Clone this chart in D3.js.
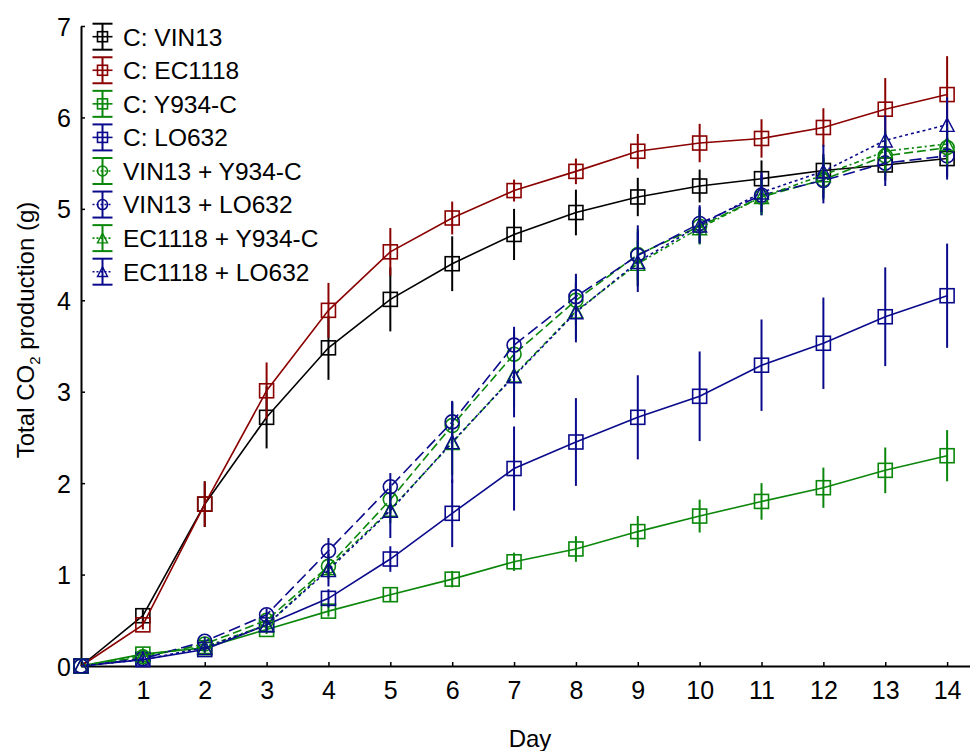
<!DOCTYPE html>
<html>
<head>
<meta charset="utf-8">
<script src="https://cdn.jsdelivr.net/npm/d3@7"></script>
<style>
  html, body { margin: 0; padding: 0; background: #fff; }
  svg { display: block; font-family: "Liberation Sans", Arial, sans-serif; }
</style>
</head>
<body>
<svg id="chart" width="970" height="751"></svg>
<script>
// ---------------- data ----------------
const days = [0,1,2,3,4,5,6,7,8,9,10,11,12,13,14];
const xTicks = [1,2,3,4,5,6,7,8,9,10,11,12,13,14];
const yTicks = [0,1,2,3,4,5,6,7];
const seriesNames = ["C: VIN13","C: EC1118","C: Y934-C","C: LO632","VIN13 + Y934-C","VIN13 + LO632","EC1118 + Y934-C","EC1118 + LO632"];

const cVIN13      = [0,0.55,1.77,2.72,3.48,4.01,4.40,4.72,4.96,5.13,5.25,5.33,5.42,5.48,5.55];
const cVIN13Err   = [0,0.07,0.25,0.34,0.35,0.35,0.30,0.28,0.25,0.21,0.18,0.20,0.18,0.17,0.20];
const cEC1118     = [0,0.45,1.77,3.01,3.89,4.53,4.90,5.20,5.41,5.63,5.72,5.77,5.89,6.09,6.25];
const cEC1118Err  = [0,0.05,0.25,0.31,0.30,0.26,0.18,0.12,0.14,0.19,0.21,0.21,0.21,0.34,0.42];
const cY934       = [0,0.13,0.20,0.40,0.60,0.78,0.95,1.14,1.28,1.47,1.64,1.80,1.95,2.14,2.30];
const cY934Err    = [0,0.03,0.04,0.05,0.06,0.07,0.09,0.10,0.14,0.17,0.18,0.20,0.22,0.25,0.28];
const cLO632      = [0,0.07,0.18,0.45,0.74,1.17,1.67,2.16,2.45,2.72,2.95,3.29,3.53,3.82,4.05];
const cLO632Err   = [0,0.04,0.05,0.07,0.10,0.14,0.37,0.46,0.48,0.46,0.49,0.50,0.50,0.54,0.57];
const vinY934     = [0,0.10,0.24,0.50,1.09,1.82,2.63,3.41,4.00,4.50,4.81,5.13,5.32,5.58,5.67];
const vinY934Err  = [0,0.02,0.04,0.06,0.12,0.15,0.25,0.25,0.27,0.28,0.19,0.20,0.22,0.22,0.22];
const vinLO632    = [0,0.08,0.27,0.56,1.26,1.96,2.67,3.51,4.04,4.49,4.84,5.15,5.31,5.50,5.58];
const vinLO632Err = [0,0.03,0.05,0.07,0.14,0.15,0.22,0.20,0.25,0.33,0.20,0.22,0.25,0.25,0.26];
const ecY934      = [0,0.12,0.21,0.45,1.07,1.71,2.44,3.18,3.88,4.40,4.79,5.13,5.37,5.63,5.71];
const ecY934Err   = [0,0.02,0.04,0.06,0.12,0.15,0.35,0.35,0.30,0.25,0.18,0.18,0.20,0.22,0.22];
const ecLO632     = [0,0.07,0.20,0.45,1.05,1.70,2.45,3.17,3.87,4.42,4.82,5.18,5.41,5.75,5.92];
const ecLO632Err  = [0,0.03,0.04,0.06,0.18,0.30,0.45,0.45,0.33,0.33,0.20,0.22,0.29,0.27,0.30];

const seriesValues = [cVIN13,cEC1118,cY934,cLO632,vinY934,vinLO632,ecY934,ecLO632];
const seriesErrors = [cVIN13Err,cEC1118Err,cY934Err,cLO632Err,vinY934Err,vinLO632Err,ecY934Err,ecLO632Err];

// ---------------- styles ----------------
const BLACK = "#000000", RED = "#8b0000", GREEN = "#0a870a", BLUE = "#0a0a8c";
const styles = [
  {color: BLACK, dash: null,      marker: "square"},
  {color: RED,   dash: null,      marker: "square"},
  {color: GREEN, dash: null,      marker: "square"},
  {color: BLUE,  dash: null,      marker: "square"},
  {color: GREEN, dash: "9,4",     marker: "circle"},
  {color: BLUE,  dash: "12,5",    marker: "circle"},
  {color: GREEN, dash: "5,3,2,3", marker: "triangle"},
  {color: BLUE,  dash: "3,3",     marker: "triangle"}
];

const svg = d3.select("#chart");
const x = d3.scaleLinear().domain([0, 14.37]).range([81, 970]);
const y = d3.scaleLinear().domain([0, 7]).range([666, 26]);

// axes
const xAxis = d3.axisBottom(x).tickValues(xTicks).tickFormat(d3.format("d"))
  .tickSizeInner(-4).tickSizeOuter(0).tickPadding(15);
const yAxis = d3.axisLeft(y).tickValues(yTicks).tickFormat(d3.format("d"))
  .tickSizeInner(-4).tickSizeOuter(0).tickPadding(10);

const gx = svg.append("g").attr("transform", `translate(0,${y(0)})`).call(xAxis);
const gy = svg.append("g").attr("transform", `translate(${x(0)},0)`).call(yAxis);
[gx, gy].forEach(g => {
  g.select(".domain").attr("stroke", "#000").attr("stroke-width", 2);
  g.selectAll(".tick line").attr("stroke", "#000").attr("stroke-width", 1.5);
  g.selectAll(".tick text").attr("fill", "#000").attr("font-size", 25).attr("font-family", "'Liberation Sans', Arial, sans-serif");
});
gy.selectAll(".tick text").attr("dy", "0.36em");

// axis titles
svg.append("text").attr("x", 530).attr("y", 747).attr("text-anchor", "middle")
  .attr("font-size", 24).text("Day");
const yt = svg.append("text").attr("transform", "translate(34,330) rotate(-90)")
  .attr("text-anchor", "middle").attr("font-size", 24);
yt.append("tspan").text("Total CO");
yt.append("tspan").attr("font-size", 15).attr("dy", 6).text("2");
yt.append("tspan").attr("dy", -6).text(" production (g)");

// marker drawing
function drawMarker(g, type, cx, cy, size, color) {
  if (type === "square") {
    g.append("rect").attr("x", cx - size/2).attr("y", cy - size/2)
      .attr("width", size).attr("height", size)
      .attr("fill", "none").attr("stroke", color).attr("stroke-width", 1.6);
  } else if (type === "circle") {
    g.append("circle").attr("cx", cx).attr("cy", cy).attr("r", size/2)
      .attr("fill", "none").attr("stroke", color).attr("stroke-width", 1.6);
  } else {
    const h = size * 0.95, w = size;
    g.append("path")
      .attr("d", `M${cx},${cy - h/2}L${cx + w/2},${cy + h/2}L${cx - w/2},${cy + h/2}Z`)
      .attr("fill", "none").attr("stroke", color).attr("stroke-width", 1.4);
  }
}

// series
const line = d3.line().x(d => x(d[0])).y(d => y(d[1]));
const plot = svg.append("g");
seriesValues.forEach((vals, si) => {
  const st = styles[si];
  const g = plot.append("g");
  const pts = days.map((d, i) => [d, vals[i]]);
  g.append("path").datum(pts).attr("d", line)
    .attr("fill", "none").attr("stroke", st.color).attr("stroke-width", 1.6)
    .attr("stroke-dasharray", st.dash);
  days.forEach((d, i) => {
    const e = seriesErrors[si][i];
    if (e > 0) {
      g.append("line").attr("x1", x(d)).attr("x2", x(d))
        .attr("y1", y(vals[i] - e)).attr("y2", y(vals[i] + e))
        .attr("stroke", st.color).attr("stroke-width", 2);
    }
  });
  days.forEach((d, i) => drawMarker(g, st.marker, x(d), y(vals[i]), 14, st.color));
});

// legend
const legend = svg.append("g");
seriesNames.forEach((name, i) => {
  const st = styles[i];
  const cy = 36.7 + i * 33.57, cx = 102.5;
  const g = legend.append("g");
  g.append("line").attr("x1", cx).attr("x2", cx).attr("y1", cy - 13).attr("y2", cy + 13)
    .attr("stroke", st.color).attr("stroke-width", 2);
  [cy - 13, cy + 13].forEach(yy => g.append("line").attr("x1", cx - 10).attr("x2", cx + 10)
    .attr("y1", yy).attr("y2", yy).attr("stroke", st.color).attr("stroke-width", 2));
  g.append("line").attr("x1", cx - 10).attr("x2", cx + 10).attr("y1", cy).attr("y2", cy)
    .attr("stroke", st.color).attr("stroke-width", 1.6).attr("stroke-dasharray", st.dash ? "2,2" : null);
  drawMarker(g, st.marker, cx, cy, 10, st.color);
  g.append("text").attr("x", 123).attr("y", cy).attr("dy", "0.36em")
    .attr("font-size", 24.5).attr("fill", "#000").text(name);
});
</script>
</body>
</html>
